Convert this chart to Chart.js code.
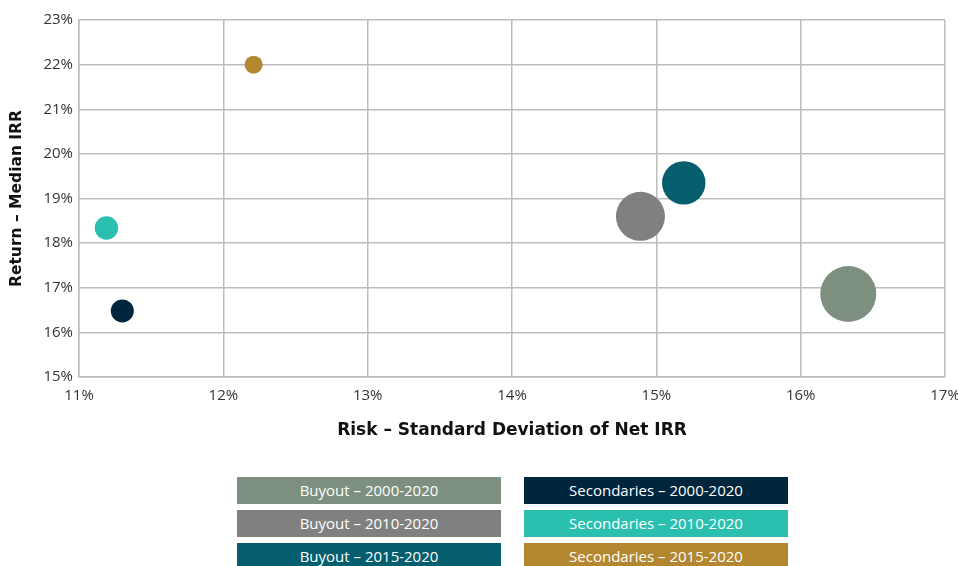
<!DOCTYPE html>
<html>
<head>
<meta charset="utf-8">
<script src="https://cdn.jsdelivr.net/npm/chart.js@4"></script>
<style>
html,body{margin:0;padding:0;background:#fff;width:958px;height:566px;overflow:hidden;font-family:"Open Sans",sans-serif;}
#wrap{position:absolute;left:0;top:0;width:958px;height:445px;}
#legend{position:absolute;left:0;top:0;width:958px;height:566px;pointer-events:none;}
.lg{position:absolute;width:264px;height:27px;line-height:27px;color:#fff;text-align:center;font-size:15px;font-family:"Open Sans",sans-serif;}
</style>
</head>
<body>
<div id="wrap"><canvas id="c"></canvas></div>
<div id="legend"></div>
<script>
const seriesNames = ["Buyout – 2000-2020","Buyout – 2010-2020","Buyout – 2015-2020","Secondaries – 2000-2020","Secondaries – 2010-2020","Secondaries – 2015-2020"];
const seriesColors = ["#7d8f7e","#808080","#045e6e","#00263e","#2bbfb0","#b3872f"];
const riskValues = [16.33, 14.89, 15.19, 11.30, 11.19, 12.21];
const returnValues = [16.86, 18.60, 19.35, 16.48, 18.34, 22.0];
const bubbleSizes = [28, 24.5, 21.7, 11.5, 11.7, 9];
const xTicks = [11,12,13,14,15,16,17];
const yTicks = [15,16,17,18,19,20,21,22,23];

const datasets = seriesNames.map((n,i)=>({
  label:n,
  data:[{x:riskValues[i], y:returnValues[i], r:bubbleSizes[i]}],
  backgroundColor:seriesColors[i],
  borderColor:seriesColors[i],
  borderWidth:0
}));

const font = {family:"'Open Sans', sans-serif"};
new Chart(document.getElementById('c'),{
  type:'bubble',
  data:{datasets},
  options:{
    responsive:true, maintainAspectRatio:false, animation:false,
    layout:{autoPadding:false,padding:{top:20,right:13,left:4,bottom:0}},
    plugins:{legend:{display:false},tooltip:{enabled:false}},
    scales:{
      x:{min:11,max:17,
        afterBuildTicks:s=>{s.ticks=xTicks.map(v=>({value:v}));},
        afterFit:s=>{s.height=68;s.paddingRight=0;s.paddingLeft=0;},
        grid:{color:'#bdbdbd',lineWidth:1.5,drawTicks:false},
        border:{color:'#bdbdbd',width:1.5},
        ticks:{padding:10,color:'#333',font:{...font,size:15},callback:v=>v+'%'},
        title:{display:true,text:'Risk – Standard Deviation of Net IRR',color:'#111',font:{family:"'DejaVu Sans', sans-serif",size:17,weight:'bold'},padding:{top:6}}
      },
      y:{min:15,max:23,
        afterBuildTicks:s=>{s.ticks=yTicks.map(v=>({value:v}));},
        afterFit:s=>{s.width=75;s.paddingTop=0;s.paddingBottom=0;},
        grid:{color:'#bdbdbd',lineWidth:1.5,drawTicks:false},
        border:{color:'#bdbdbd',width:1.5},
        ticks:{padding:6,color:'#333',font:{...font,size:15},callback:v=>v+'%'},
        title:{display:true,text:'Return – Median IRR',color:'#111',font:{family:"'DejaVu Sans', sans-serif",size:15.5,weight:'bold'},padding:{bottom:5}}
      }
    }
  }
});

const leg=document.getElementById('legend');
const cols=[237,524], rows=[477,510,543];
seriesNames.forEach((n,i)=>{
  const d=document.createElement('div');
  d.className='lg';
  d.style.left=cols[Math.floor(i/3)]+'px';
  d.style.top=rows[i%3]+'px';
  d.style.background=seriesColors[i];
  d.textContent=n;
  leg.appendChild(d);
});
</script>
</body>
</html>
